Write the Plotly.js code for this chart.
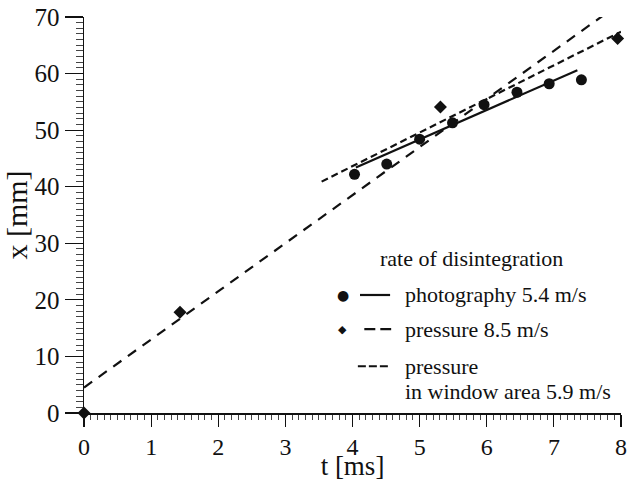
<!DOCTYPE html>
<html>
<head>
<meta charset="utf-8">
<script src="https://cdn.plot.ly/plotly-3.0.1.min.js"></script>
<style>html,body{margin:0;padding:0;background:#fff;}#chart{width:628px;height:481px;}</style>
</head>
<body>
<div id="chart"></div>
<script>
// photography measurements (circles)
const photoT = [4.03, 4.51, 5.0, 5.49, 5.96, 6.45, 6.93, 7.41];
const photoX = [42.2, 44.0, 48.4, 51.3, 54.5, 56.7, 58.2, 58.9];
// pressure measurements (diamonds)
const pressT = [0.0, 1.43, 5.31, 7.95];
const pressX = [0.0, 17.8, 54.1, 66.2];
// fitted lines
const photoFitT = [4.05, 7.35];
const photoFitX = [43.4, 60.6];
const pressFitT = [0.0, 7.75];
const pressFitX = [4.5, 70.4];
const windowFitT = [3.54, 8.0];
const windowFitX = [40.9, 67.4];
// text
const xTickVals = [0, 1, 2, 3, 4, 5, 6, 7, 8];
const yTickVals = [0, 10, 20, 30, 40, 50, 60, 70];
const legendTitle = "rate of disintegration";
const legendLabels = ["photography 5.4 m/s", "pressure 8.5 m/s", "pressure", "in window area 5.9 m/s"];

const FONT = "Liberation Serif";
const INK = "#111";

const traces = [
  {x: pressFitT, y: pressFitX, mode: "lines", line: {color: INK, width: 2.2, dash: "10px,8px"}, hoverinfo: "skip"},
  {x: windowFitT, y: windowFitX, mode: "lines", line: {color: INK, width: 2.2, dash: "7px,4px"}, hoverinfo: "skip"},
  {x: photoFitT, y: photoFitX, mode: "lines", line: {color: INK, width: 2.2}, hoverinfo: "skip"},
  {x: photoT, y: photoX, mode: "markers", marker: {symbol: "circle", size: 11, color: INK}, cliponaxis: false},
  {x: pressT, y: pressX, mode: "markers", marker: {symbol: "diamond", size: 10, color: INK}, cliponaxis: false}
];

const ltext = 0.594, lmark = 0.482;
const rows = [0.298, 0.212, 0.118, 0.055];

const shapes = [
  {type: "line", xref: "paper", yref: "paper", x0: 0.514, x1: 0.570, y0: rows[0], y1: rows[0], line: {color: INK, width: 2.2}},
  {type: "line", xref: "paper", yref: "paper", x0: 0.522, x1: 0.572, y0: rows[1], y1: rows[1], line: {color: INK, width: 2.2, dash: "11px,5px"}},
  {type: "line", xref: "paper", yref: "paper", x0: 0.510, x1: 0.568, y0: rows[2], y1: rows[2], line: {color: INK, width: 2.2, dash: "8px,3px"}}
];

function txt(x, y, s, anchor) {
  return {xref: "paper", yref: "paper", x: x, y: y, text: s, showarrow: false,
          xanchor: anchor, yanchor: "middle", font: {family: FONT, size: 22, color: INK}};
}

const annotations = [
  txt(0.722, 0.391, legendTitle, "center"),
  {xref: "paper", yref: "paper", x: lmark, y: rows[0], text: "●", showarrow: false, xanchor: "center", yanchor: "middle", font: {family: "DejaVu Sans", size: 14, color: INK}},
  {xref: "paper", yref: "paper", x: lmark, y: rows[1], text: "◆", showarrow: false, xanchor: "center", yanchor: "middle", font: {family: "DejaVu Sans", size: 11, color: INK}},
  txt(ltext, rows[0], legendLabels[0], "left"),
  txt(ltext, rows[1], legendLabels[1], "left"),
  txt(ltext, rows[2], legendLabels[2], "left"),
  txt(ltext, rows[3], legendLabels[3], "left")
];

const layout = {
  width: 628, height: 481,
  margin: {l: 84, r: 7, t: 17, b: 68, pad: 0},
  paper_bgcolor: "#fff", plot_bgcolor: "#fff",
  showlegend: false,
  font: {family: FONT, color: INK, size: 24},
  xaxis: {
    range: [0, 8], tickmode: "array", tickvals: xTickVals, ticktext: xTickVals.map(String),
    showgrid: false, zeroline: false,
    showline: true, linecolor: INK, linewidth: 1.5,
    ticks: "outside", ticklen: 12, tickwidth: 1.2, tickcolor: INK,
    minor: {dtick: 0.1, ticks: "outside", ticklen: 5, tickwidth: 1, tickcolor: "#444", showgrid: false},
    tickfont: {family: FONT, size: 24, color: INK},
    title: {text: "t [ms]", font: {family: FONT, size: 27, color: INK}, standoff: 5}
  },
  yaxis: {
    range: [0, 70], tickmode: "array", tickvals: yTickVals, ticktext: yTickVals.map(String),
    showgrid: false, zeroline: false,
    showline: true, linecolor: INK, linewidth: 1.5,
    ticks: "outside", ticklen: 18, tickwidth: 1.2, tickcolor: INK,
    minor: {dtick: 1, ticks: "outside", ticklen: 7, tickwidth: 1, tickcolor: "#444", showgrid: false},
    tickfont: {family: FONT, size: 25, color: INK},
    title: {text: "x [mm]", font: {family: FONT, size: 30, color: INK}, standoff: 2}
  },
  shapes: shapes,
  annotations: annotations
};

Plotly.newPlot("chart", traces, layout, {displayModeBar: false, staticPlot: true});
</script>
</body>
</html>
